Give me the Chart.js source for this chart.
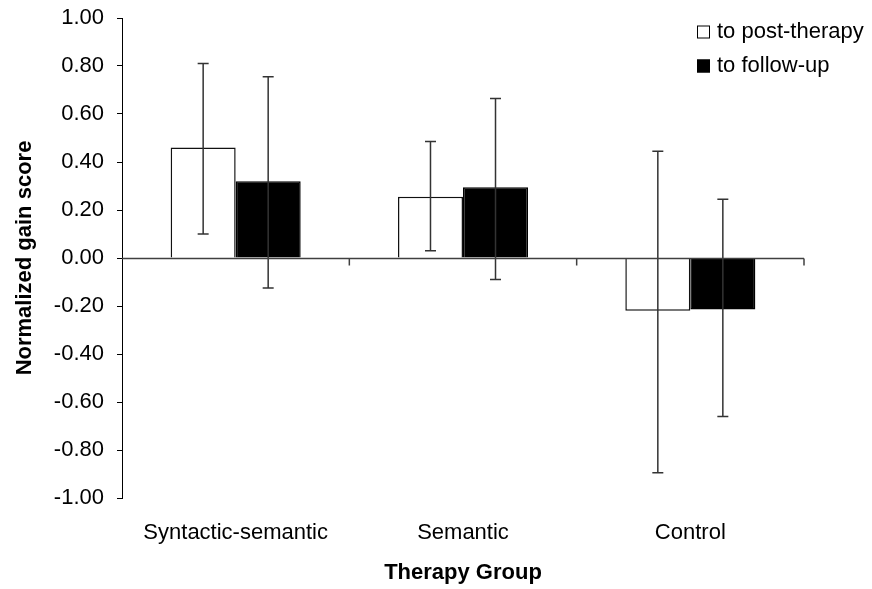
<!DOCTYPE html>
<html>
<head>
<meta charset="utf-8">
<script src="https://cdn.jsdelivr.net/npm/chart.js@4.4.1/dist/chart.umd.min.js"></script>
<style>
  html, body { margin: 0; padding: 0; background: #fff; }
  #wrap { width: 872px; height: 589px; }
</style>
</head>
<body>
<div id="wrap"><canvas id="c" width="872" height="589"></canvas></div>
<script>
const categories = ['Syntactic-semantic', 'Semantic', 'Control'];
const seriesLabels = ['to post-therapy', 'to follow-up'];
const postTherapy = [0.46, 0.255, -0.22];
const followUp = [0.32, 0.295, -0.215];
const postLow = [0.10, 0.03, -0.895];
const postHigh = [0.81, 0.485, 0.445];
const followLow = [-0.125, -0.09, -0.66];
const followHigh = [0.755, 0.665, 0.245];
const yMin = -1.0, yMax = 1.0, yStep = 0.2;
const axisTitleX = 'Therapy Group';
const axisTitleY = 'Normalized gain score';

const FONT = "'Liberation Sans', Arial, sans-serif";
const errorRanges = [[postLow, postHigh], [followLow, followHigh]];

const errorBarPlugin = {
  id: 'errorBars',
  afterDatasetsDraw(chart) {
    const ctx = chart.ctx;
    const y = chart.scales.y;
    ctx.save();
    ctx.strokeStyle = '#333';
    ctx.lineWidth = 1.5;
    chart.data.datasets.forEach((ds, di) => {
      const meta = chart.getDatasetMeta(di);
      meta.data.forEach((bar, i) => {
        const lo = y.getPixelForValue(errorRanges[di][0][i]);
        const hi = y.getPixelForValue(errorRanges[di][1][i]);
        const x = bar.x;
        const cap = 5.5;
        ctx.beginPath();
        ctx.moveTo(x, lo); ctx.lineTo(x, hi);
        ctx.moveTo(x - cap, lo); ctx.lineTo(x + cap, lo);
        ctx.moveTo(x - cap, hi); ctx.lineTo(x + cap, hi);
        ctx.stroke();
      });
    });
    ctx.restore();
  }
};

const zeroLinePlugin = {
  id: 'zeroLine',
  afterDatasetsDraw(chart) {
    const ctx = chart.ctx;
    const {left, right} = chart.chartArea;
    const xs = chart.scales.x;
    const zy = Math.round(chart.scales.y.getPixelForValue(0)) + 0.5;
    ctx.save();
    ctx.strokeStyle = '#404040';
    ctx.lineWidth = 1.5;
    ctx.beginPath();
    ctx.moveTo(left, zy); ctx.lineTo(right, zy);
    for (let i = 1; i <= categories.length; i++) {
      let bx;
      if (i < categories.length) bx = (xs.getPixelForValue(i - 1) + xs.getPixelForValue(i)) / 2;
      else bx = right;
      ctx.moveTo(bx, zy); ctx.lineTo(bx, zy + 7);
    }
    ctx.stroke();
    ctx.restore();
  }
};

const legendPlugin = {
  id: 'customLegend',
  afterDraw(chart) {
    const ctx = chart.ctx;
    ctx.save();
    ctx.font = '22px ' + FONT;
    ctx.textBaseline = 'middle';
    ctx.textAlign = 'left';
    chart.data.datasets.forEach((ds, i) => {
      const cy = 32 + i * 34;
      ctx.fillStyle = ds.backgroundColor;
      ctx.fillRect(697, cy - 6.5, 13, 13);
      ctx.strokeStyle = '#000';
      ctx.lineWidth = 1;
      ctx.strokeRect(697.5, cy - 6, 12, 12);
      ctx.fillStyle = '#000';
      ctx.fillText(ds.label, 717, cy);
    });
    ctx.restore();
  }
};

new Chart(document.getElementById('c'), {
  type: 'bar',
  data: {
    labels: categories,
    datasets: [
      { label: seriesLabels[0], data: postTherapy, backgroundColor: '#ffffff', borderColor: '#111', borderWidth: 1.5 },
      { label: seriesLabels[1], data: followUp, backgroundColor: '#000000', borderColor: '#000', borderWidth: 1.5 }
    ]
  },
  options: {
    responsive: false,
    animation: false,
    devicePixelRatio: 1,
    layout: { padding: { left: 0, right: 68, top: 18, bottom: 0 } },
    datasets: { bar: { categoryPercentage: 0.572, barPercentage: 1.0 } },
    plugins: { legend: { display: false }, tooltip: { enabled: false } },
    scales: {
      x: {
        grid: { display: false, drawTicks: false },
        border: { display: false },
        ticks: { color: '#000', font: { family: FONT, size: 22 }, padding: 22, maxRotation: 0 },
        title: { display: true, text: axisTitleX, color: '#000', font: { family: FONT, size: 22, weight: 'bold' }, padding: { top: 0, bottom: 3 } },
        afterFit(scale) { scale.height = 91; scale.paddingLeft = 0; scale.paddingRight = 0; }
      },
      y: {
        min: yMin, max: yMax,
        grid: { display: true, drawOnChartArea: false, drawTicks: true, tickLength: 5, color: '#000', lineWidth: 1 },
        border: { display: true, color: '#000', width: 1 },
        ticks: {
          stepSize: yStep, color: '#000', padding: 13,
          font: { family: FONT, size: 22 },
          callback: (v) => (Math.abs(v) < 1e-9 ? 0 : v).toFixed(2)
        },
        title: { display: true, text: axisTitleY, color: '#000', font: { family: FONT, size: 22, weight: 'bold' }, padding: { top: 12, bottom: 0 } },
        afterFit(scale) { scale.width = 122; scale.paddingTop = 0; scale.paddingBottom = 0; }
      }
    }
  },
  plugins: [errorBarPlugin, zeroLinePlugin, legendPlugin]
});
</script>
</body>
</html>
